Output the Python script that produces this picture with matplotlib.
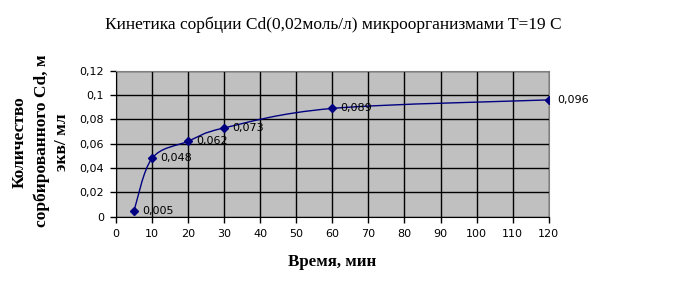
import numpy as np
import matplotlib.pyplot as plt
from matplotlib.path import Path
from matplotlib.patches import PathPatch

# Sorption kinetics data
time_min = [5, 10, 20, 30, 60, 120]
amount = [0.005, 0.048, 0.062, 0.073, 0.089, 0.096]
labels = ["0,005", "0,048", "0,062", "0,073", "0,089", "0,096"]

x_ticks = list(range(0, 121, 10))
y_ticks = [0, 0.02, 0.04, 0.06, 0.08, 0.1, 0.12]
y_tick_labels = ["0", "0,02", "0,04", "0,06", "0,08", "0,1", "0,12"]

navy = "#000080"


def smooth_path(xs, ys, tension=1 / 6):
    # Catmull-Rom style bezier, like a spreadsheet "smoothed line"
    pts = np.column_stack([xs, ys]).astype(float)
    verts = [pts[0]]
    codes = [Path.MOVETO]
    n = len(pts)
    for i in range(n - 1):
        p0 = pts[max(i - 1, 0)]
        p1 = pts[i]
        p2 = pts[i + 1]
        p3 = pts[min(i + 2, n - 1)]
        c1 = p1 + (p2 - p0) * tension
        c2 = p2 - (p3 - p1) * tension
        verts += [c1, c2, p2]
        codes += [Path.CURVE4] * 3
    return Path(verts, codes)


fig = plt.figure(figsize=(6.97, 2.88), dpi=100)
ax = fig.add_axes([116 / 697, 1 - 216.7 / 288, (548.7 - 116) / 697, (216.7 - 70.7) / 288])
ax.set_facecolor("#C0C0C0")

ax.add_patch(PathPatch(smooth_path(time_min, amount), facecolor="none",
                       edgecolor=navy, linewidth=1.0, zorder=3))
ax.plot(time_min, amount, linestyle="none", marker="D", markersize=4.5,
        color=navy, zorder=4)
for x, y, t in zip(time_min, amount, labels):
    ax.annotate(t, (x, y), xytext=(6, 0), textcoords="offset points",
                va="center", ha="left", fontsize=8, color="black",
                annotation_clip=False, zorder=5)

ax.set_xlim(0, 120)
ax.set_ylim(0, 0.12)
ax.set_xticks(x_ticks)
ax.set_yticks(y_ticks)
ax.set_yticklabels(y_tick_labels)
ax.grid(True, color="black", linewidth=1.0)
ax.set_axisbelow(True)
ax.tick_params(labelsize=8, length=4, width=1, direction="out")
ax.tick_params(axis="x", pad=5)
ax.tick_params(axis="y", pad=4.5)

for side in ["top", "right"]:
    ax.spines[side].set_color("#808080")
for side in ["left", "bottom"]:
    ax.spines[side].set_color("black")

serif = "Liberation Serif"
fig.text(333 / 697, 1 - 25 / 288, "Кинетика сорбции Cd(0,02моль/л) микроорганизмами T=19 С",
         ha="center", va="center", family=serif, fontsize=12.5)
fig.text(332 / 697, 1 - 262 / 288, "Время, мин", ha="center", va="center",
         family=serif, fontsize=12.2, fontweight="bold")
fig.text(20 / 697, 1 - 142 / 288, "Количество", ha="center", va="center",
         rotation=90, family=serif, fontsize=12.5, fontweight="bold")
fig.text(42 / 697, 1 - 141 / 288, "сорбированного Cd, м", ha="center", va="center",
         rotation=90, family=serif, fontsize=12.5, fontweight="bold")
fig.text(62 / 697, 1 - 142 / 288, "экв/ мл", ha="center", va="center",
         rotation=90, family=serif, fontsize=12.5, fontweight="bold")

fig.savefig("out.png", dpi=100)
